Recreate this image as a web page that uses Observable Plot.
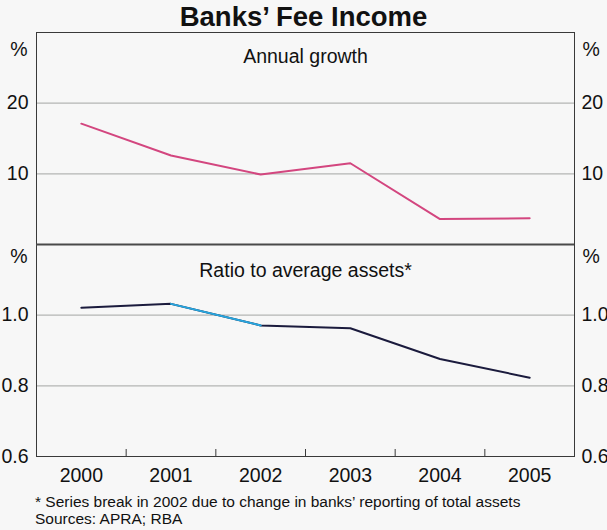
<!DOCTYPE html>
<html>
<head>
<meta charset="utf-8">
<script src="https://cdn.jsdelivr.net/npm/d3@7"></script>
<script src="https://cdn.jsdelivr.net/npm/@observablehq/plot@0.6"></script>
<style>
  html, body { margin: 0; padding: 0; background: #f7f7f7; }
  body { font-family: "Liberation Sans", Arial, sans-serif; color: #111; }
  #wrap { position: relative; width: 607px; height: 530px; overflow: hidden; }
  #title { position: absolute; top: 0; left: 0; width: 607px; text-align: center;
           font-weight: bold; font-size: 27.5px; line-height: 33px; z-index: 2; }
  #notes { position: absolute; left: 35px; top: 493px; font-size: 15.5px; line-height: 17px; z-index: 2; }
  svg { display: block; overflow: visible; }
</style>
</head>
<body>
<div id="wrap">
  <div id="title"></div>
  <div id="charts"></div>
  <div id="notes"></div>
</div>
<script>
const title = "Banks’ Fee Income";
const panel1Title = "Annual growth";
const panel2Title = "Ratio to average assets*";
const unitLabel = "%";
const footnote = "* Series break in 2002 due to change in banks’ reporting of total assets";
const sources = "Sources: APRA; RBA";

const years = [2000, 2001, 2002, 2003, 2004, 2005];
const growth = [17.1, 12.6, 9.9, 11.5, 3.6, 3.7];
const ratio = [1.021, 1.032, 0.971, 0.963, 0.876, 0.823];
const breakYears = [2001, 2002];

const growthDomain = [0, 30];
const growthTicks = [10, 20];
const ratioDomain = [0.6, 1.2];
const ratioTicks = [0.6, 0.8, 1.0];
const ratioGrid = [0.8, 1.0];

const FONT = '"Liberation Sans", Arial, sans-serif';
const W = 607, ML = 36, MR = 33, PH = 212, TOP = 32, BOTTOM = 74;
const PINK = "#d3467f", NAVY = "#1b1b3d", BLUE = "#27a6df", GRID = "#b4b6b4", FRAME = "#3a3a3a";

const growthData = years.map((y, i) => ({year: y, value: growth[i]}));
const ratioData = years.map((y, i) => ({year: y, value: ratio[i]}));
const breakData = ratioData.filter(d => breakYears.includes(d.year));
const xDomain = [years[0] - 0.5, years[years.length - 1] + 0.5];
const bounds = years.slice(0, -1).map(y => y + 0.5);

const style = {background: "transparent", fontFamily: FONT, fontSize: "19.5px", color: "#111", overflow: "visible"};

const p1 = Plot.plot({
  width: W, height: TOP + PH, marginTop: TOP, marginBottom: 0, marginLeft: ML, marginRight: MR,
  style,
  x: {domain: xDomain, axis: null},
  y: {domain: growthDomain, axis: null, label: null},
  marks: [
    Plot.ruleY(growthTicks, {stroke: GRID, strokeWidth: 1.2}),
    Plot.axisY(growthTicks, {anchor: "left", tickSize: 0, tickPadding: 8, label: null, fill: "#111"}),
    Plot.axisY(growthTicks, {anchor: "right", tickSize: 0, tickPadding: 7, label: null, fill: "#111"}),
    Plot.text([unitLabel], {text: d => d, frameAnchor: "top-left", dx: -9, dy: 10, textAnchor: "end", fill: "#111"}),
    Plot.text([unitLabel], {text: d => d, frameAnchor: "top-right", dx: 8, dy: 10, textAnchor: "start", fill: "#111"}),
    Plot.text([panel1Title], {text: d => d, frameAnchor: "top", dy: 17, fill: "#111"}),
    Plot.line(growthData, {x: "year", y: "value", stroke: PINK, strokeWidth: 2}),
    Plot.frame({stroke: FRAME, strokeWidth: 1})
  ]
});

const p2 = Plot.plot({
  width: W, height: PH + BOTTOM, marginTop: 0, marginBottom: BOTTOM, marginLeft: ML, marginRight: MR,
  style,
  x: {domain: xDomain, axis: null},
  y: {domain: ratioDomain, axis: null, label: null},
  marks: [
    Plot.ruleY(ratioGrid, {stroke: GRID, strokeWidth: 1.2}),
    Plot.axisY(ratioTicks, {anchor: "left", tickSize: 0, tickPadding: 8, tickFormat: ".1f", label: null, fill: "#111"}),
    Plot.axisY(ratioTicks, {anchor: "right", tickSize: 0, tickPadding: 7, tickFormat: ".1f", label: null, fill: "#111"}),
    Plot.text([unitLabel], {text: d => d, frameAnchor: "top-left", dx: -9, dy: 5, textAnchor: "end", fill: "#111"}),
    Plot.text([unitLabel], {text: d => d, frameAnchor: "top-right", dx: 8, dy: 5, textAnchor: "start", fill: "#111"}),
    Plot.text([panel2Title], {text: d => d, frameAnchor: "top", dy: 19, fill: "#111"}),
    Plot.tickX(bounds, {x: d => d, insetTop: PH - 7, stroke: FRAME, strokeWidth: 1}),
    Plot.axisX(years, {anchor: "bottom", tickSize: 0, tickPadding: 12, tickFormat: d => String(d), label: null, fill: "#111"}),
    Plot.line(ratioData, {x: "year", y: "value", stroke: NAVY, strokeWidth: 2}),
    Plot.line(breakData, {x: "year", y: "value", stroke: BLUE, strokeWidth: 2}),
    Plot.frame({stroke: FRAME, strokeWidth: 1}),
    Plot.ruleY([ratioDomain[1]], {stroke: "#4a4a4a", strokeWidth: 2})
  ]
});

document.getElementById("title").textContent = title;
document.getElementById("charts").append(p1, p2);
const notes = document.getElementById("notes");
[footnote, sources].forEach(t => { const d = document.createElement("div"); d.textContent = t; notes.append(d); });
</script>
</body>
</html>
